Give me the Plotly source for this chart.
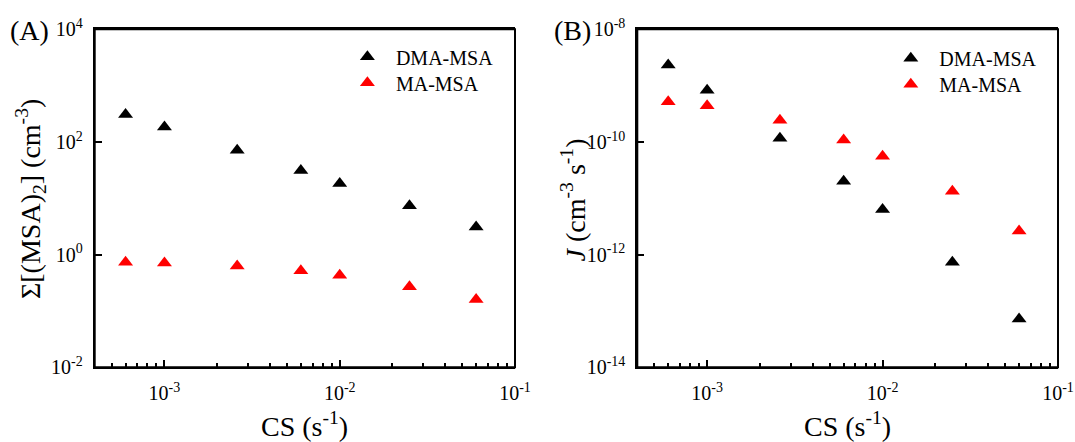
import math
import plotly.graph_objects as go

# ---- data ----
cs = [6e-4, 1e-3, 2.6e-3, 6e-3, 1e-2, 2.5e-2, 6e-2]
dma_msa2 = [306, 184, 71, 31, 18.4, 7.4, 3.1]
ma_msa2 = [0.73, 0.71, 0.63, 0.52, 0.43, 0.27, 0.16]
dma_J = [2.33e-9, 8.3e-10, 1.17e-10, 2.0e-11, 6.3e-12, 7.3e-13, 7.2e-14]
ma_J = [5.2e-10, 4.4e-10, 2.44e-10, 1.08e-10, 5.6e-11, 1.34e-11, 2.62e-12]

x_tickvals = [1e-3, 1e-2, 1e-1]
x_ticktext = ["10<sup>-3</sup>", "10<sup>-2</sup>", "10<sup>-1</sup>"]
x_minor = [5e-4, 6e-4, 7e-4, 8e-4, 9e-4,
           2e-3, 3e-3, 4e-3, 5e-3, 6e-3, 7e-3, 8e-3, 9e-3,
           2e-2, 3e-2, 4e-2, 5e-2, 6e-2, 7e-2, 8e-2, 9e-2]
yA_tickvals = [1e-2, 1e0, 1e2, 1e4]
yA_ticktext = ["10<sup>-2</sup>", "10<sup>0</sup>", "10<sup>2</sup>", "10<sup>4</sup>"]
yB_tickvals = [1e-14, 1e-12, 1e-10, 1e-8]
yB_ticktext = ["10<sup>-14</sup>", "10<sup>-12</sup>", "10<sup>-10</sup>", "10<sup>-8</sup>"]

FONT = "Liberation Serif"
W, H = 1075, 442
RED = "#FF0000"
TICKF = dict(family=FONT, size=20, color="black")
TITLEF = dict(family=FONT, size=28, color="black")
LEGF = dict(family=FONT, size=20, color="black")

fig = go.Figure()
msize = 13
fig.add_trace(go.Scatter(x=cs, y=dma_msa2, mode="markers", name="DMA-MSA",
                         marker=dict(symbol="triangle-up", size=msize, color="black"),
                         xaxis="x", yaxis="y", legend="legend", showlegend=True))
fig.add_trace(go.Scatter(x=cs, y=ma_msa2, mode="markers", name="MA-MSA",
                         marker=dict(symbol="triangle-up", size=msize, color=RED),
                         xaxis="x", yaxis="y", legend="legend2", showlegend=True))
fig.add_trace(go.Scatter(x=cs, y=dma_J, mode="markers", name="DMA-MSA",
                         marker=dict(symbol="triangle-up", size=msize, color="black"),
                         xaxis="x2", yaxis="y2", legend="legend3", showlegend=True))
fig.add_trace(go.Scatter(x=cs, y=ma_J, mode="markers", name="MA-MSA",
                         marker=dict(symbol="triangle-up", size=msize, color=RED),
                         xaxis="x2", yaxis="y2", legend="legend4", showlegend=True))

ydom = [1 - 367.3 / H, 1 - 29.3 / H]
xdomA = [94.7 / W, 515 / W]
xdomB = [637.3 / W, 1058 / W]

def xaxis(dom, anchor):
    return dict(type="log", domain=dom, anchor=anchor, range=[math.log10(4e-4), -1],
                showline=True, linewidth=2, linecolor="black", mirror=True,
                ticks="inside", ticklen=7, tickwidth=2, tickcolor="black",
                tickvals=x_tickvals, ticktext=x_ticktext,
                minor=dict(tickvals=x_minor, ticks="inside", ticklen=4, tickwidth=2,
                           tickcolor="black", showgrid=False),
                showgrid=False, zeroline=False, automargin=False,
                ticklabelstandoff=7, tickfont=TICKF)

def yaxis(dom, anchor, rng, tv, tt, side="left", overlay=None):
    d = dict(type="log", domain=dom, anchor=anchor, range=rng, side=side,
             showline=True, linewidth=2, linecolor="black",
             ticks="inside", ticklen=7, tickwidth=2, tickcolor="black",
             tickvals=tv, ticktext=tt,
             showgrid=False, zeroline=False, automargin=False,
             ticklabelstandoff=6, tickfont=TICKF)
    if overlay:
        d["overlaying"] = overlay
        d["showticklabels"] = False
    return d

def leg(xl, ycenter):
    return dict(x=xl / W, y=1 - (ycenter - 19.5) / H, xanchor="left", yanchor="top",
                bgcolor="rgba(0,0,0,0)", font=LEGF, itemwidth=47, visible=True)

ann = [
    dict(text="(A)", x=29 / W, y=1 - 31 / H),
    dict(text="(B)", x=572 / W, y=1 - 31 / H),
    dict(text="Σ[(MSA)<sub>2</sub>] (cm<sup>-3</sup>)", x=31 / W, y=1 - 199 / H, textangle=-90),
    dict(text="<i>J</i> (cm<sup>-3</sup> s<sup>-1</sup>)", x=574.4 / W, y=1 - 200 / H, textangle=-90),
    dict(text="CS (s<sup>-1</sup>)", x=304.8 / W, y=1 - 424 / H),
    dict(text="CS (s<sup>-1</sup>)", x=847.7 / W, y=1 - 424 / H),
]
for a in ann:
    a.update(xref="paper", yref="paper", showarrow=False, xanchor="center",
             yanchor="middle", font=TITLEF)

shapes = [
    dict(type="rect", xref="x domain", yref="y domain", x0=0, x1=1, y0=0, y1=1,
         line=dict(color="black", width=2), layer="above"),
    dict(type="rect", xref="x2 domain", yref="y2 domain", x0=0, x1=1, y0=0, y1=1,
         line=dict(color="black", width=2), layer="above"),
]

fig.update_layout(
    width=W, height=H,
    margin=dict(l=0, r=0, t=0, b=0),
    paper_bgcolor="white", plot_bgcolor="white",
    font=dict(family=FONT, color="black"),
    showlegend=True,
    xaxis=xaxis(xdomA, "y"),
    yaxis=yaxis(ydom, "x", [-2, 4], yA_tickvals, yA_ticktext),
    yaxis3=yaxis(ydom, "x", [-2, 4], yA_tickvals, yA_ticktext, side="right", overlay="y"),
    xaxis2=xaxis(xdomB, "y2"),
    yaxis2=yaxis(ydom, "x2", [-14, -8], yB_tickvals, yB_ticktext),
    yaxis4=yaxis(ydom, "x2", [-14, -8], yB_tickvals, yB_ticktext, side="right", overlay="y2"),
    legend=leg(368.3 - 29.4, 56.7),
    legend2=leg(368.3 - 29.4, 82.7),
    legend3=leg(911.7 - 29.4, 58.3),
    legend4=leg(911.7 - 29.4, 84.3),
    annotations=ann,
    shapes=shapes,
)

fig.write_html("out.html", config={"displayModeBar": False},
               post_script="document.body.style.margin='0px';")
